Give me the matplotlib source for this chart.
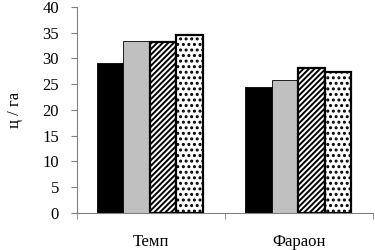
import matplotlib.pyplot as plt
import numpy as np
from matplotlib import rcParams

rcParams["font.family"] = ["Liberation Serif", "DejaVu Serif"]
rcParams["hatch.linewidth"] = 1.4

# Data
categories = ["Темп", "Фараон"]
s1 = [29.0, 24.5]
s2 = [33.4, 25.8]
s3 = [33.2, 28.1]
s4 = [34.6, 27.3]

series = [s1, s2, s3, s4]
faces = ["black", "#c0c0c0", "white", "white"]
hatches = [None, None, "//////", "..."]
lws = [0.6, 0.6, 1.6, 1.6]

fig = plt.figure(figsize=(3.75, 2.5), dpi=100)
ax = fig.add_axes([0.205, 0.148, 0.79, 0.825])

x = np.arange(len(categories))
w = 0.179
start = -0.365
for i, (vals, fc, h, lw) in enumerate(zip(series, faces, hatches, lws)):
    ax.bar(x + start + w * (i + 0.5), vals, width=w, color=fc, hatch=h,
           edgecolor="black", linewidth=lw, zorder=2)

ax.set_xlim(-0.5, 1.5)
ax.set_ylim(0, 40)
ax.set_yticks(np.arange(0, 41, 5))
ax.set_xticks(x)
ax.set_xticklabels(categories)
ax.set_xticks([-0.5, 0.5, 1.5], minor=True)
ax.tick_params(axis="x", which="major", length=0, pad=15, labelsize=12)
ax.tick_params(axis="x", which="minor", length=4, color="#808080", direction="out")
ax.tick_params(axis="y", length=4, color="#808080", pad=9, labelsize=12)
ax.spines["top"].set_visible(False)
ax.spines["right"].set_visible(False)
ax.spines["left"].set_color("#808080")
ax.spines["bottom"].set_color("#808080")
ax.set_ylabel("ц / га", fontsize=12, labelpad=14)

fig.savefig("out.png", dpi=100)
